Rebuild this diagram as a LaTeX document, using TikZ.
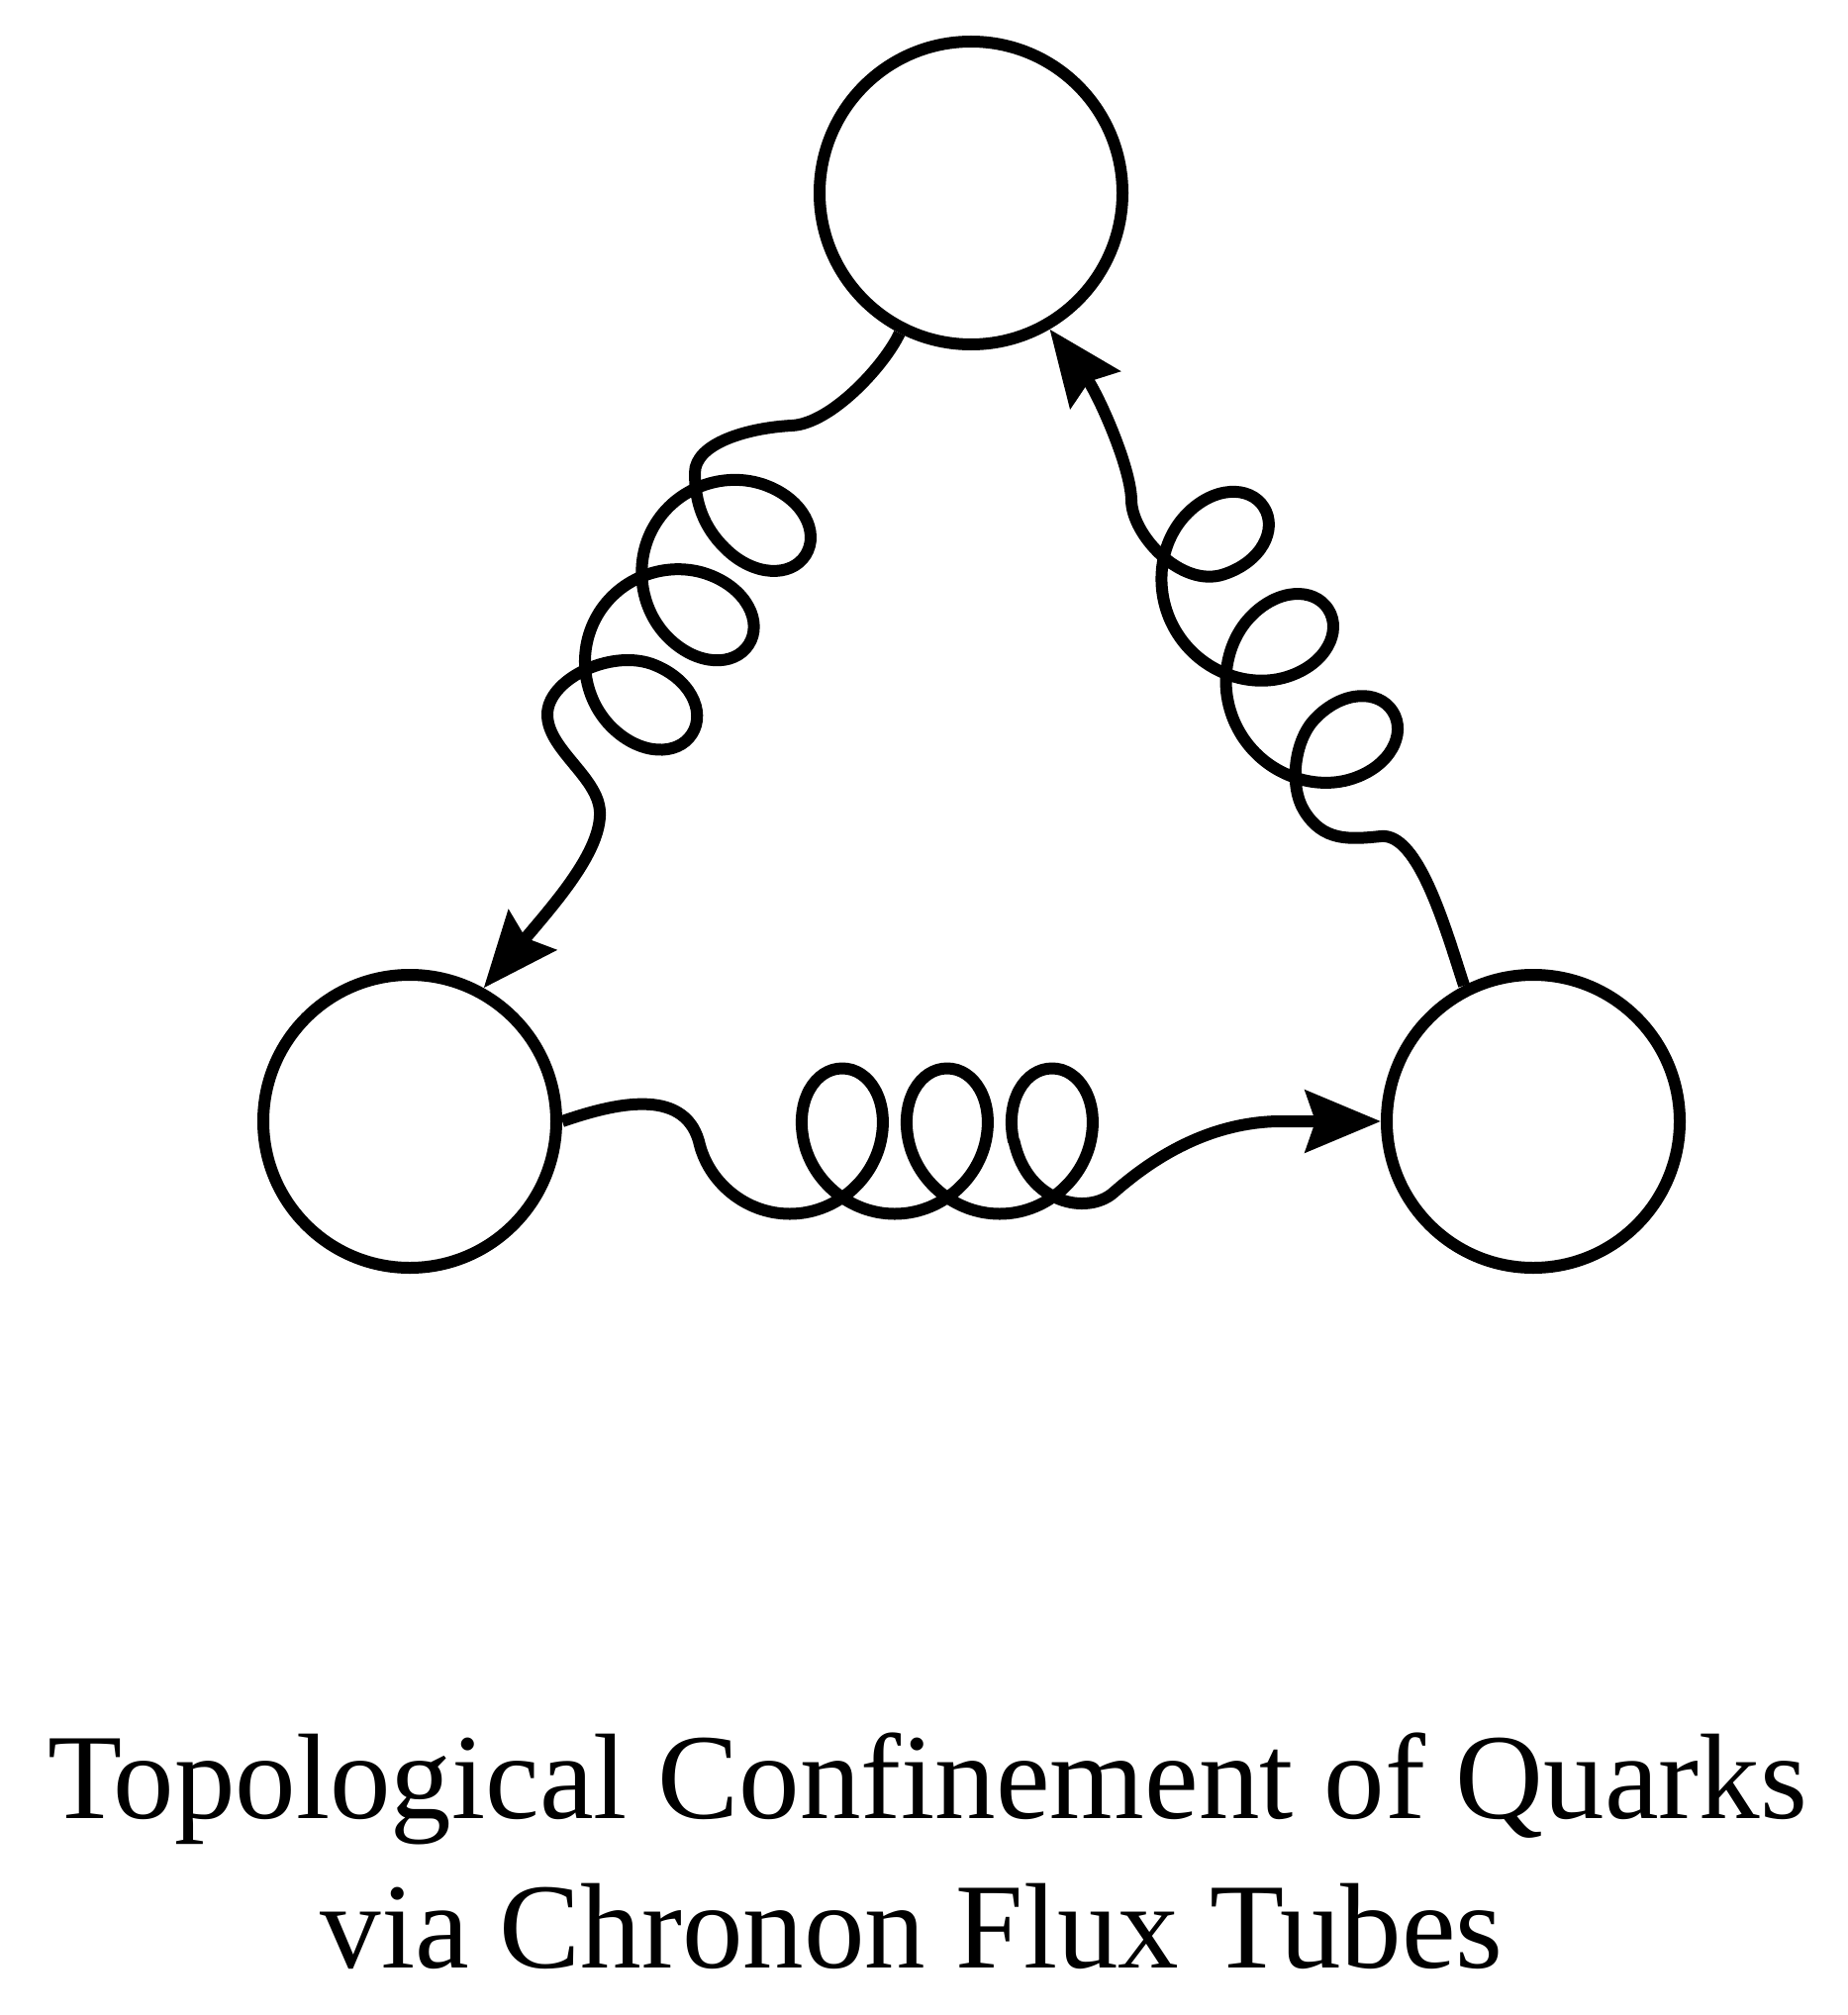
\documentclass[tikz,border=0pt]{standalone}
\usepackage{fontspec}
\setmainfont{Liberation Serif}
\usetikzlibrary{decorations, arrows.meta}
\makeatletter
\def\glpt#1#2#3{%
  \pgf@x=#1\pgfdecorationsegmentamplitude
  \pgf@x=\pgfdecorationsegmentaspect\pgf@x
  \pgf@y=#2\pgfdecorationsegmentamplitude
  \pgf@xa=0.083333333333\pgfdecorationsegmentlength
  \advance\pgf@x by#3\pgf@xa}
\makeatother
% coil made of whole turns only (no closing half turn)
\pgfdeclaredecoration{loops}{turn}{
  \state{turn}[width=+\pgfdecorationsegmentlength]{
    \pgfpathcurveto{\glpt{0}{0.555}{1}}{\glpt{0.445}{1}{2}}{\glpt{1}{1}{3}}
    \pgfpathcurveto{\glpt{1.555}{1}{4}}{\glpt{2}{0.555}{5}}{\glpt{2}{0}{6}}
    \pgfpathcurveto{\glpt{2}{-0.555}{7}}{\glpt{1.555}{-1}{8}}{\glpt{1}{-1}{9}}
    \pgfpathcurveto{\glpt{0.445}{-1}{10}}{\glpt{0}{-0.555}{11}}{\glpt{0}{0}{12}}
  }
  \state{final}{\pgfpathlineto{\pgfpointdecoratedpathlast}}
}
% whole turns followed by one half turn; the path stays where the half turn ends
\pgfdeclaredecoration{loopsh}{turn}{
  \state{turn}[width=+\pgfdecorationsegmentlength,
     switch if less than=1.2\pgfdecorationsegmentlength to half]{
    \pgfpathcurveto{\glpt{0}{0.555}{1}}{\glpt{0.445}{1}{2}}{\glpt{1}{1}{3}}
    \pgfpathcurveto{\glpt{1.555}{1}{4}}{\glpt{2}{0.555}{5}}{\glpt{2}{0}{6}}
    \pgfpathcurveto{\glpt{2}{-0.555}{7}}{\glpt{1.555}{-1}{8}}{\glpt{1}{-1}{9}}
    \pgfpathcurveto{\glpt{0.445}{-1}{10}}{\glpt{0}{-0.555}{11}}{\glpt{0}{0}{12}}
  }
  \state{half}[width=0.3\pgfdecorationsegmentlength, next state=final]{
    \pgfpathcurveto{\glpt{0}{0.555}{1}}{\glpt{0.445}{1}{2}}{\glpt{1}{1}{3}}
    \pgfpathcurveto{\glpt{1.555}{1}{4}}{\glpt{2}{0.555}{5}}{\glpt{2}{0}{6}}
  }
  \state{final}{}
}
\begin{document}
\begin{tikzpicture}[x=1pt, y=1pt, line width=12pt, line join=round,
  quark/.style={circle, draw, line width=12pt, inner sep=0pt},
  tipend/.style={-{Stealth[length=76pt, width=62pt, inset=10pt]}},
  tipstart/.style={{Stealth[length=76pt, width=62pt, inset=10pt]}-},
  coilB/.style={decoration={loops, mirror, amplitude=73.5pt, segment length=106pt, aspect=0.89}},
  coilL/.style={decoration={loopsh, amplitude=72.5pt, segment length=107pt, aspect=-0.89}},
  coilR/.style={decoration={loopsh, amplitude=71pt, segment length=122pt, aspect=-0.93}},
  caption/.style={font=\fontsize{123}{150}\selectfont, anchor=base, inner sep=0pt}]
\useasboundingbox (0,0) rectangle (1866,-2036);
\node[quark, minimum size=306pt] (T) at (981,-195) {};
\node[quark, minimum size=296pt] (L) at (414,-1133) {};
\node[quark, minimum size=296pt] (R) at (1549,-1133) {};
% bottom: L -> R
\draw[tipend, coilB] (L.east) .. controls (620,-1115) and (690,-1098) .. (706,-1153)
   decorate {-- (1024.5,-1153)}
   .. controls (1038.2,-1216.7) and (1098.8,-1228.1) .. (1125,-1205)
   .. controls (1158.8,-1175.3) and (1215,-1135) .. (1290,-1133)
   -- (R.west);
% left: T -> L
\draw[tipend, coilL] (T.243) .. controls (894.1,-368.6) and (840,-428) .. (800,-430)
   .. controls (755,-432.3) and (702,-448) .. (702,-478)
   .. controls (702,-508) and (711.1,-532.9) .. (732.4,-553.9)
   decorate {-- (554.6,-833.9)}
   .. controls (615.6,-656) and (553,-687) .. (553,-722)
   .. controls (553,-757) and (604.3,-785) .. (606,-820)
   .. controls (608,-860) and (559.4,-914) .. (L.61);
% right: drawn T -> R, arrow at T
\draw[tipstart, coilR] (T.300) .. controls (1108.5,-396.7) and (1142,-470) .. (1143,-505)
   .. controls (1143,-540) and (1193,-594.2) .. (1235.8,-580.5)
   decorate {-- (1437.6,-900.4)}
   .. controls (1307.5,-748.6) and (1302,-794.6) .. (1318,-820)
   .. controls (1336.7,-849.6) and (1361.8,-848.5) .. (1395,-845)
   .. controls (1433,-841) and (1460.5,-938.8) .. (R.117);
\node[caption] (cap1) at (937,-1837) {Topological Confinement of Quarks};
\node[caption] (cap2) at (921,-1988) {via Chronon Flux Tubes};
\end{tikzpicture}
\end{document}
